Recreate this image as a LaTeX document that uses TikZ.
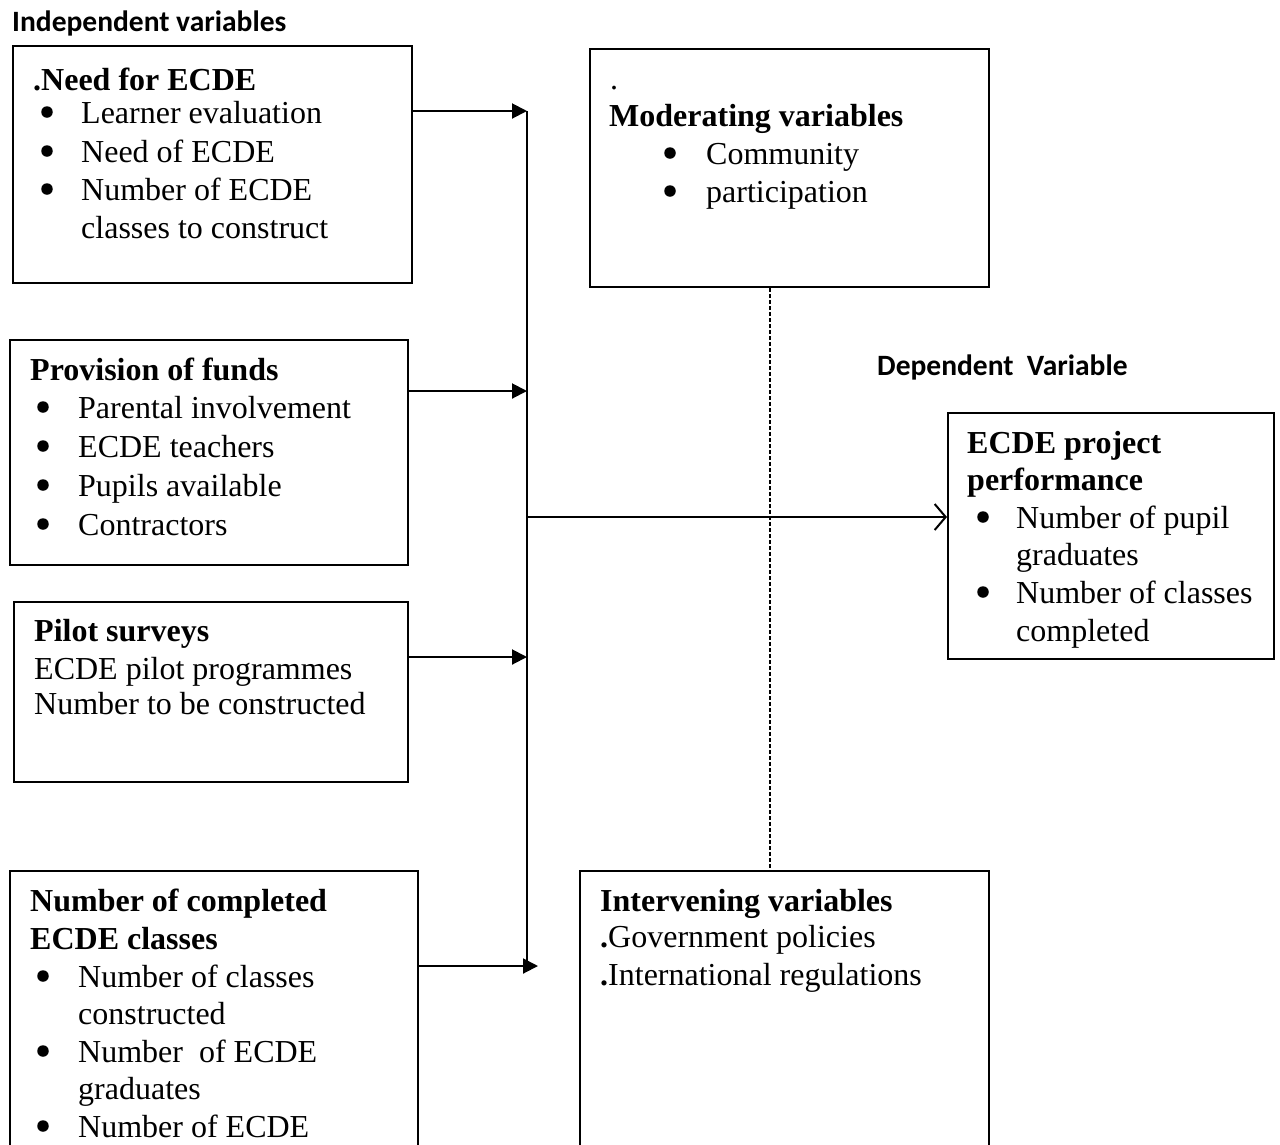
\documentclass[tikz,border=0pt]{standalone}
\usepackage{fontspec}
\setmainfont{Liberation Serif}
\newfontfamily\calfont{Carlito}
\usetikzlibrary{arrows.meta}
\tikzset{
  box/.style={draw, line width=2pt, inner sep=0pt, anchor=north west},
  txt/.style={anchor=base west, inner sep=0pt, font=\fontsize{32}{39}\selectfont},
  hd/.style={anchor=base west, inner sep=0pt, font=\fontsize{32}{39}\selectfont\bfseries},
  lbl/.style={anchor=base west, inner sep=0pt, font=\fontsize{29.5}{34}\selectfont\calfont\bfseries},
  dot/.style={circle, fill=black, inner sep=0pt, minimum size=11.5pt},
  fa/.style={line width=2pt, -{Triangle[length=15pt,width=15pt]}},
  oa/.style={line width=2pt, -{Straight Barb[length=11pt,width=26pt,line width=2pt]}},
  dl/.style={line width=1.2pt, dash pattern=on 4pt off 2pt}
}
\begin{document}
\begin{tikzpicture}[x=1pt,y=-1pt]
\clip (0,0) rectangle (1280,1144);
\fill[white] (0,0) rectangle (1280,1144);

% titles
\node[lbl] (tind) at (12,31) {Independent variables};
\node[lbl] (tdep) at (877,375) {Dependent\ \ Variable};

% boxes
\node[box, minimum width=399pt, minimum height=237pt] (b1) at (12,45) {};
\node[box, minimum width=398pt, minimum height=225pt] (b2) at (9,339) {};
\node[box, minimum width=394pt, minimum height=180pt] (b3) at (13,601) {};
\node[box, minimum width=408pt, minimum height=300pt] (b4) at (9,870) {};
\node[box, minimum width=399pt, minimum height=238pt] (mod) at (589,48) {};
\node[box, minimum width=409pt, minimum height=300pt] (int) at (579,870) {};
\node[box, minimum width=326pt, minimum height=246pt] (dep) at (947,412) {};

% box 1
\node[hd] (b1h) at (33,90) {.Need for ECDE};
\node[dot] (b1d1) at (47,112) {};
\node[txt] (b1t1) at (81,123) {Learner evaluation};
\node[dot] (b1d2) at (47,151) {};
\node[txt] (b1t2) at (81,162) {Need of ECDE};
\node[dot] (b1d3) at (47,189) {};
\node[txt] (b1t3) at (81,200) {Number of ECDE};
\node[txt] (b1t4) at (81,238) {classes to construct};

% box 2
\node[hd] (b2h) at (30,380) {Provision of funds};
\node[dot] (b2d1) at (43,407) {};
\node[txt] (b2t1) at (78,418) {Parental involvement};
\node[dot] (b2d2) at (43,446) {};
\node[txt] (b2t2) at (78,457) {ECDE teachers};
\node[dot] (b2d3) at (43,485) {};
\node[txt] (b2t3) at (78,496) {Pupils available};
\node[dot] (b2d4) at (43,524) {};
\node[txt] (b2t4) at (78,535) {Contractors};

% box 3
\node[hd] (b3h) at (34,641) {Pilot surveys};
\node[txt] (b3t1) at (34,679) {ECDE pilot programmes};
\node[txt] (b3t2) at (34,714) {Number to be constructed};

% box 4
\node[hd] (b4h1) at (30,911) {Number of completed};
\node[hd] (b4h2) at (30,949) {ECDE classes};
\node[dot] (b4d1) at (43,976) {};
\node[txt] (b4t1) at (78,987) {Number of classes};
\node[txt] (b4t2) at (78,1024) {constructed};
\node[dot] (b4d2) at (43,1051) {};
\node[txt] (b4t3) at (78,1062) {Number\ \ of ECDE};
\node[txt] (b4t4) at (78,1099) {graduates};
\node[dot] (b4d3) at (43,1126) {};
\node[txt] (b4t5) at (78,1137) {Number of ECDE};

% moderating
\node[txt] (mdot) at (610,89) {.};
\node[hd] (mh) at (609,126) {Moderating variables};
\node[dot] (md1) at (670,153) {};
\node[txt] (mt1) at (706,164) {Community};
\node[dot] (md2) at (670,191) {};
\node[txt] (mt2) at (706,202) {participation};

% dependent
\node[hd] (dh1) at (967,453) {ECDE project};
\node[hd] (dh2) at (967,490) {performance};
\node[dot] (dd1) at (983,517) {};
\node[txt] (dt1) at (1016,528) {Number of pupil};
\node[txt] (dt2) at (1016,565) {graduates};
\node[dot] (dd2) at (983,592) {};
\node[txt] (dt3) at (1016,603) {Number of classes};
\node[txt] (dt4) at (1016,641) {completed};

% intervening
\node[hd] (ih) at (600,911) {Intervening variables};
\node[txt] (it1) at (600,947) {\textbf{.}Government policies};
\node[txt] (it2) at (600,985) {\textbf{.}International regulations};

% connectors
\coordinate (t1) at (527,111);
\coordinate (t2) at (527,391);
\coordinate (t3) at (527,657);
\coordinate (t4) at (538,966);
\coordinate (tm) at (527,517);
\coordinate (trtop) at (527,111);
\coordinate (trbot) at (527,966);
\coordinate (dx) at (770,0);

\draw[line width=2pt] (trtop) -- (trbot);
\draw[fa] (b1.east |- t1) -- (t1);
\draw[fa] (b2.east |- t2) -- (t2);
\draw[fa] (b3.east |- t3) -- (t3);
\draw[fa] (b4.east |- t4) -- (t4);
\draw[oa] (tm) -- (dep.west |- tm);
\draw[dl] (mod.south -| dx) -- (int.north -| dx);
\end{tikzpicture}
\end{document}
